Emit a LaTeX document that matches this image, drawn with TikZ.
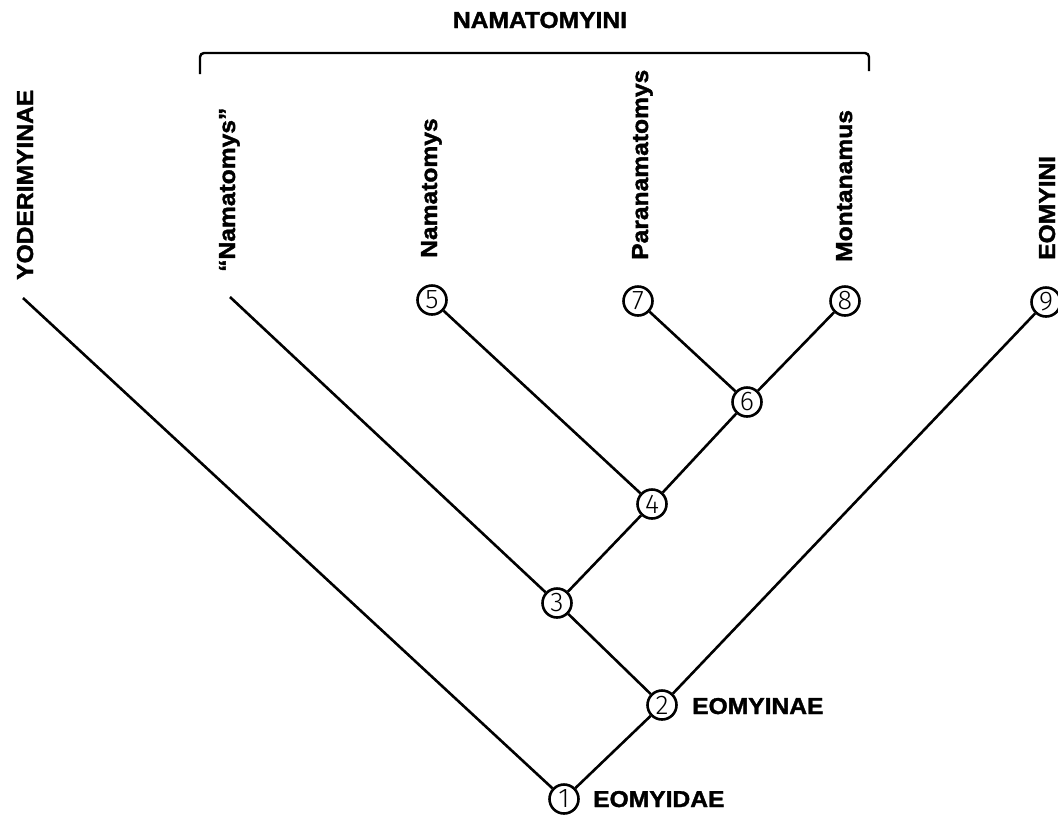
\documentclass[tikz,border=0pt]{standalone}
\usepackage{fontspec}
\newfontfamily\labfont[FakeStretch=1.07,FakeBold=1.6]{Liberation Sans Bold}
\newfontfamily\digfont{Fira Sans Light}
\begin{document}
\begin{tikzpicture}[x=1pt,y=-1pt,
  num/.style={circle,draw,line width=2.6pt,minimum size=29pt,inner sep=0pt,
    font=\digfont\fontsize{27}{27}\selectfont},
  lab/.style={font=\labfont\fontsize{23}{23}\selectfont,inner sep=0pt},
  vlab/.style={lab,rotate=90,anchor=base west},
  branch/.style={line width=2.6pt}]
\useasboundingbox (0,0) rectangle (1058,815);
% numbered nodes
\node[num] (n1) at (564,799) {1};
\node[num] (n2) at (662,705) {2};
\node[num] (n3) at (557,603) {3};
\node[num] (n4) at (652,504) {4};
\node[num] (n6) at (747,402) {6};
\node[num] (n5) at (432,300) {5};
\node[num] (n7) at (638,301) {7};
\node[num] (n8) at (845,301) {8};
\node[num] (n9) at (1046,302) {9};
\coordinate (yodend) at (23,298);
\coordinate (qnamend) at (230,297);
% branches
\draw[branch] (n1) -- (yodend);
\draw[branch] (n1) -- (n2);
\draw[branch] (n2) -- (n3);
\draw[branch] (n2) -- (n9);
\draw[branch] (n3) -- (qnamend);
\draw[branch] (n3) -- (n4);
\draw[branch] (n4) -- (n5);
\draw[branch] (n4) -- (n6);
\draw[branch] (n6) -- (n7);
\draw[branch] (n6) -- (n8);
% vertical labels
\node[vlab] (tyod) at (33,280) {YODERIMYINAE};
\node[vlab] (tqnam) at (235,272) {“Namatomys”};
\node[vlab] (tnam) at (437,258) {Namatomys};
\node[vlab] (tpar) at (648,260) {Paranamatomys};
\node[vlab] (tmon) at (852,262) {Montanamus};
\node[vlab] (teoi) at (1055,260) {EOMYINI};
% group labels
\node[lab,anchor=base] (tnmi) at (540,28) {NAMATOMYINI};
\coordinate (brl) at (200,74);
\coordinate (brr) at (869,71);
\draw[line width=2.4pt,rounded corners=4pt] (brl) -- (200,53) -- (869,53) -- (brr);
\node[lab,anchor=base west] (teoe) at (692,714) {EOMYINAE};
\node[lab,anchor=base west] (teod) at (593,807) {EOMYIDAE};
\end{tikzpicture}
\end{document}
